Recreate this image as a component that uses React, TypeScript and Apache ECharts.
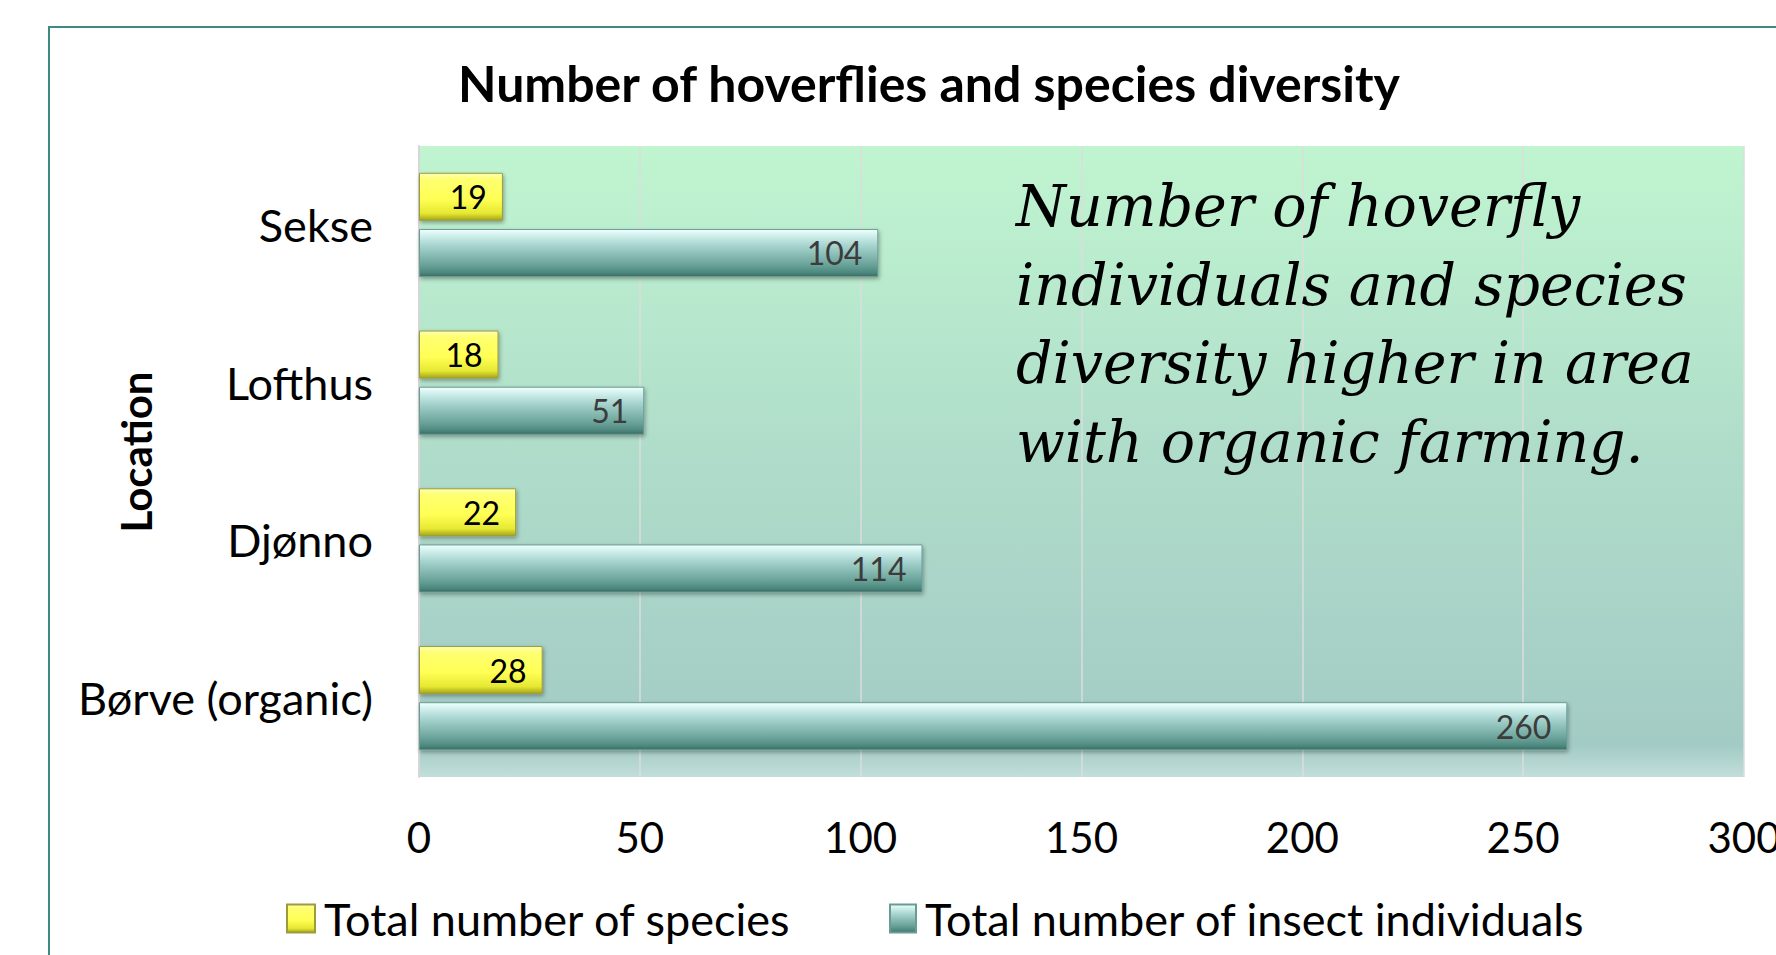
import React, { useEffect, useRef } from 'react';
import * as echarts from 'echarts';

// categories listed bottom-to-top (ECharts category y axis starts at the bottom)
const categories = ['Børve (organic)', 'Djønno', 'Lofthus', 'Sekse'];
const speciesValues = [28, 22, 18, 19];
const individualValues = [260, 114, 51, 104];
const xMin = 0;
const xMax = 300;
const xStep = 50;
const seriesNames = ['Total number of species', 'Total number of insect individuals'];
const chartTitle = 'Number of hoverflies and species diversity';
const axisName = 'Location';
const noteLines = [
  'Number of hoverfly',
  'individuals and species',
  'diversity higher in area',
  'with organic farming.',
];

const FONT = 'Lato, "Noto Sans", sans-serif';

export default function App() {
  const ref = useRef<HTMLDivElement>(null);

  useEffect(() => {
    document.body.style.margin = '0';
    if (!ref.current) return;
    const chart = echarts.init(ref.current, undefined, { renderer: 'svg' });

    const yellowGrad = new echarts.graphic.LinearGradient(0, 0, 0, 1, [
      { offset: 0, color: '#fbffb8' },
      { offset: 0.12, color: '#ffff72' },
      { offset: 0.55, color: '#ffff55' },
      { offset: 0.85, color: '#e6e832' },
      { offset: 1, color: '#a4a418' },
    ]);
    const tealGrad = new echarts.graphic.LinearGradient(0, 0, 0, 1, [
      { offset: 0, color: '#f4ffff' },
      { offset: 0.1, color: '#d6f4f1' },
      { offset: 0.35, color: '#a6d3ce' },
      { offset: 0.75, color: '#6aa399' },
      { offset: 0.92, color: '#4d887e' },
      { offset: 1, color: '#3a6a62' },
    ]);
    const bgGrad = new echarts.graphic.LinearGradient(0, 0, 0, 1, [
      { offset: 0, color: '#c0f5d0' },
      { offset: 0.5, color: '#afdcca' },
      { offset: 0.95, color: '#a3cbc5' },
      { offset: 1, color: '#c2dedb' },
    ]);

    const noteTop = 206;
    const noteStep = 78.7;

    chart.setOption({
      animation: false,
      backgroundColor: '#ffffff',
      title: {
        text: chartTitle,
        left: 924,
        top: 53,
        textAlign: 'center',
        textStyle: { fontFamily: FONT, fontWeight: 'bold', fontSize: 50, color: '#000' },
      },
      grid: {
        left: 419,
        right: 32,
        top: 146,
        bottom: 178,
        show: true,
        backgroundColor: bgGrad,
        borderWidth: 0,
        containLabel: false,
        outerBoundsMode: 'none',
      },
      legend: [
        {
          data: [seriesNames[0]],
          left: 286,
          top: 896,
          padding: 0,
          itemWidth: 28,
          itemHeight: 28,
          icon: 'rect',
          textStyle: { fontFamily: FONT, fontSize: 45, color: '#000', padding: [0, 0, 0, 4] },
        },
        {
          data: [seriesNames[1]],
          left: 889,
          top: 896,
          padding: 0,
          itemWidth: 26,
          itemHeight: 28,
          icon: 'rect',
          textStyle: { fontFamily: FONT, fontSize: 45, color: '#000', padding: [0, 0, 0, 4] },
        },
      ],
      xAxis: {
        type: 'value',
        min: xMin,
        max: xMax,
        interval: xStep,
        axisLine: { show: false },
        axisTick: { show: false },
        axisLabel: { fontFamily: FONT, fontSize: 42, color: '#000', margin: 39 },
        splitLine: { show: true, lineStyle: { color: '#dcdcdc', width: 1.5 } },
      },
      yAxis: {
        type: 'category',
        data: categories,
        axisLine: { show: true, lineStyle: { color: '#d6d6d6', width: 2 } },
        axisTick: { show: false },
        axisLabel: { fontFamily: FONT, fontSize: 45, color: '#000', margin: 46 },
      },
      series: [
        {
          name: seriesNames[0],
          type: 'bar',
          data: speciesValues,
          barWidth: 48,
          barGap: '17%',
          itemStyle: {
            color: yellowGrad,
            borderColor: '#9c9c3c',
            borderWidth: 1,
            shadowColor: 'rgba(0,0,0,0.35)',
            shadowBlur: 4,
            shadowOffsetX: 1,
            shadowOffsetY: 2,
          },
          label: {
            show: true,
            position: 'insideRight',
            distance: 16,
            fontFamily: FONT,
            fontSize: 32,
            color: '#000',
          },
        },
        {
          name: seriesNames[1],
          type: 'bar',
          data: individualValues,
          barWidth: 48,
          barGap: '17%',
          itemStyle: {
            color: tealGrad,
            borderColor: '#6a9c94',
            borderWidth: 1,
            shadowColor: 'rgba(0,0,0,0.35)',
            shadowBlur: 4,
            shadowOffsetX: 1,
            shadowOffsetY: 2,
          },
          label: {
            show: true,
            position: 'insideRight',
            distance: 16,
            fontFamily: FONT,
            fontSize: 32,
            color: '#3c3c3c',
          },
        },
      ],
      graphic: [
        {
          type: 'rect',
          shape: { x: 49, y: 27, width: 1800, height: 1000 },
          style: { fill: 'none', stroke: '#3e8a80', lineWidth: 2 },
          silent: true,
          z: 100,
        },
        {
          type: 'text',
          x: 136,
          y: 452,
          rotation: Math.PI / 2,
          style: {
            text: axisName,
            fontFamily: FONT,
            fontWeight: 'bold',
            fontSize: 42,
            fill: '#000',
            align: 'center',
            verticalAlign: 'middle',
          },
        },
        ...noteLines.map((line, i) => ({
          type: 'text',
          x: 1016,
          y: noteTop + i * noteStep,
          z: 50,
          style: {
            text: line,
            fontFamily: '"DejaVu Serif", serif',
            fontStyle: 'italic',
            fontSize: 57,
            fill: '#000',
            align: 'left',
            verticalAlign: 'middle',
          },
        })),
      ],
    });

    return () => chart.dispose();
  }, []);

  return <div ref={ref} style={{ width: 1776, height: 955 }} />;
}
